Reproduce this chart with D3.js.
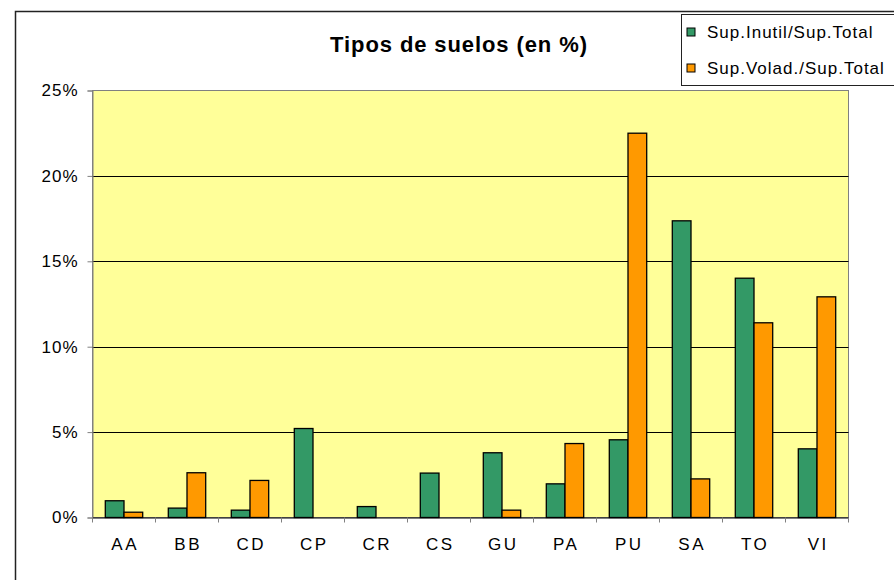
<!DOCTYPE html>
<html><head><meta charset="utf-8">
<script src="https://cdn.jsdelivr.net/npm/d3@7"></script>
<style>body{margin:0;background:#fff}svg{display:block;font-family:"Liberation Sans",Arial,sans-serif}</style>
</head><body><svg id="c" width="894" height="580"></svg>
<script>
const categories = ["AA","BB","CD","CP","CR","CS","GU","PA","PU","SA","TO","VI"];
const seriesNames = ["Sup.Inutil/Sup.Total","Sup.Volad./Sup.Total"];
const inutil = [0.98,0.55,0.43,5.21,0.64,2.6,3.79,1.97,4.55,17.37,14.01,4.02];
const volad  = [0.31,2.62,2.17,0,0,0,0.43,4.33,22.5,2.26,11.4,12.92];
const yTicks = [0,5,10,15,20,25];
const colors = ["#339966","#FF9900"];
const title = "Tipos de suelos (en %)";

const svg = d3.select("#c");
const L=92.5, R=848.5, T=90.5, B=517.5;
// outer border
svg.append("path").attr("d","M15.5,580 V11.5 H894").attr("fill","none").attr("stroke","#222").attr("stroke-width",1.5);

const x = d3.scaleBand().domain(categories).range([L,R]).paddingInner(0).paddingOuter(0);
const y = d3.scaleLinear().domain([0,25]).range([B,T]);

svg.append("rect").attr("x",L).attr("y",T).attr("width",R-L).attr("height",B-T).attr("fill","#FFFF99").attr("stroke","#808080");

// gridlines
svg.append("g").selectAll("line").data(yTicks.filter(d=>d>0&&d<25)).join("line")
  .attr("x1",L).attr("x2",R).attr("y1",d=>Math.round(y(d))+0.5).attr("y2",d=>Math.round(y(d))+0.5)
  .attr("stroke","#000").attr("stroke-width",1);

const bw = 18.7;
const data = categories.map((c,i)=>({c, v:[inutil[i],volad[i]]}));
const g = svg.append("g");
data.forEach(d=>{
  d.v.forEach((v,j)=>{
    if(v<=0) return;
    const x0 = x(d.c) + x.bandwidth()/2 - bw + j*bw;
    g.append("rect").attr("x",x0).attr("y",y(v)).attr("width",bw).attr("height",y(0)-y(v))
      .attr("fill",colors[j]).attr("stroke","#000").attr("stroke-width",1.3);
  });
});

// axes
const yAxis = d3.axisLeft(y).tickValues(yTicks).tickFormat(d=>d+"%").tickSize(5).tickPadding(10);
const ya = svg.append("g").attr("transform",`translate(${L},0)`).call(yAxis);
ya.select(".domain").attr("stroke","#808080");
ya.selectAll(".tick line").attr("stroke","#808080");
ya.selectAll("text").attr("font-size",17).attr("fill","#000").attr("font-family","Liberation Sans, Arial").style("letter-spacing","1px").attr("dx",1);

const xa = svg.append("g").attr("transform",`translate(0,${B})`).call(d3.axisBottom(x).tickSize(0).tickPadding(20));
xa.select(".domain").attr("stroke","#000");
xa.selectAll("text").attr("font-size",17).attr("fill","#000").attr("font-family","Liberation Sans, Arial").style("letter-spacing","2.5px").attr("dx",1.2);
// category separator ticks
svg.append("g").selectAll("line").data(d3.range(categories.length+1)).join("line")
  .attr("x1",i=>L+i*x.step()).attr("x2",i=>L+i*x.step()).attr("y1",B).attr("y2",B+5).attr("stroke","#808080");

// title
svg.append("text").attr("x",459).attr("y",52).attr("text-anchor","middle").attr("font-size",22).attr("font-weight","bold").style("letter-spacing","0.9px").text(title);

// legend
const lg = svg.append("g");
lg.append("rect").attr("x",681.5).attr("y",14.5).attr("width",220).attr("height",71).attr("fill","#fff").attr("stroke","#222");
seriesNames.forEach((s,i)=>{
  const yy = 32 + i*36;
  lg.append("rect").attr("x",687).attr("y",yy-4).attr("width",8).attr("height",8).attr("fill",colors[i]).attr("stroke","#000").attr("stroke-width",1);
  lg.append("text").attr("x",707).attr("y",yy+6).attr("font-size",17).style("letter-spacing","1px").text(s);
});
</script></body></html>
